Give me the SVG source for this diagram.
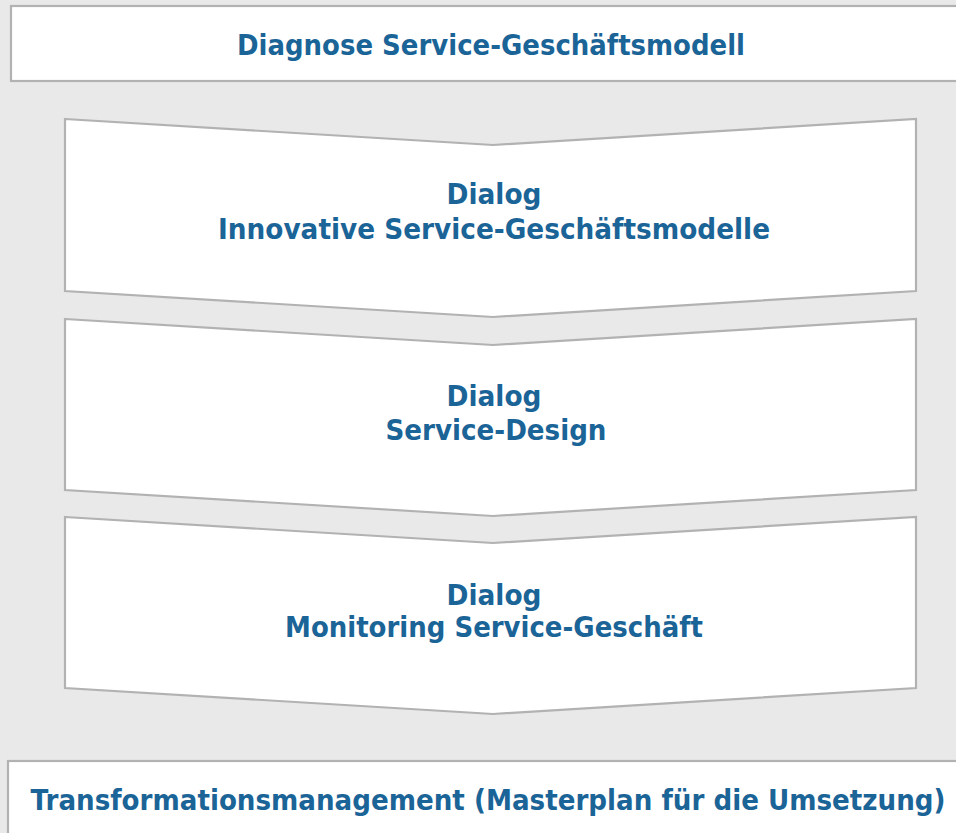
<svg xmlns="http://www.w3.org/2000/svg" width="956" height="833" viewBox="0 0 956 833">
  <style>
    .box { fill: #ffffff; stroke: #b2b2b2; stroke-width: 2.2; }
    .label { font-family: "DejaVu Sans", Verdana, sans-serif; font-weight: bold; font-size: 28px; fill: #1b6497; text-anchor: middle; }
  </style>
  <rect x="0" y="0" width="956" height="833" fill="#e9e9e9"/>

  <g id="diagnose">
    <rect class="box" x="11" y="6" width="960" height="75"/>
    <text class="label" x="491" y="55" textLength="508" lengthAdjust="spacingAndGlyphs">Diagnose Service-Geschäftsmodell</text>
  </g>

  <g id="dialog-geschaeftsmodelle">
    <path class="box" d="M65,119 L493,145 L916,119 L916,291 L493,317 L65,291 Z"/>
    <text class="label" x="494" y="204" textLength="95" lengthAdjust="spacingAndGlyphs">Dialog</text>
    <text class="label" x="494" y="239" textLength="552" lengthAdjust="spacingAndGlyphs">Innovative Service-Geschäftsmodelle</text>
  </g>

  <g id="dialog-design">
    <path class="box" d="M65,319 L493,345 L916,319 L916,490 L493,516 L65,490 Z"/>
    <text class="label" x="494" y="406" textLength="95" lengthAdjust="spacingAndGlyphs">Dialog</text>
    <text class="label" x="496" y="440" textLength="221" lengthAdjust="spacingAndGlyphs">Service-Design</text>
  </g>

  <g id="dialog-monitoring">
    <path class="box" d="M65,517 L493,543 L916,517 L916,688 L493,714 L65,688 Z"/>
    <text class="label" x="494" y="605" textLength="95" lengthAdjust="spacingAndGlyphs">Dialog</text>
    <text class="label" x="494" y="637" textLength="418" lengthAdjust="spacingAndGlyphs">Monitoring Service-Geschäft</text>
  </g>

  <g id="transformation">
    <rect class="box" x="8" y="761" width="960" height="90"/>
    <text class="label" x="488" y="810" textLength="915" lengthAdjust="spacingAndGlyphs">Transformationsmanagement (Masterplan für die Umsetzung)</text>
  </g>

  <g id="connectors"/>
</svg>
